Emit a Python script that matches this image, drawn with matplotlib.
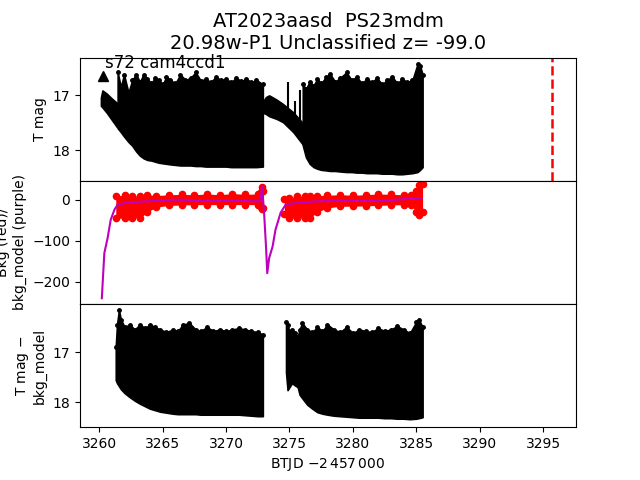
import matplotlib
matplotlib.use("Agg")
import matplotlib.pyplot as plt

# ---- panel 1: T mag (envelope of dense points) ----
ramp1_t = [3260.13, 3260.25, 3260.6, 3261.0, 3261.4]
ramp1_top = [17.04, 16.91, 16.97, 17.06, 17.14]
ramp1_bot = [17.19, 17.22, 17.32, 17.45, 17.58]

blk1_t = [3261.45, 3261.7, 3261.95, 3262.3, 3262.6, 3262.9, 3263.2, 3263.5, 3263.8,
          3264.1, 3264.4, 3264.7, 3265.0, 3265.3, 3265.6, 3266.0, 3266.4, 3266.8,
          3267.2, 3267.6, 3268.0, 3268.4, 3268.8, 3269.2, 3269.6, 3270.0, 3270.4,
          3270.8, 3271.2, 3271.6, 3272.0, 3272.4, 3272.9]
blk1_top = [16.58, 16.85, 16.62, 16.95, 16.72, 16.62, 16.75, 16.62, 16.70,
            16.78, 16.68, 16.72, 16.80, 16.66, 16.72, 16.78, 16.62, 16.72,
            16.68, 16.58, 16.73, 16.70, 16.76, 16.66, 16.72, 16.70, 16.76,
            16.68, 16.74, 16.70, 16.76, 16.72, 16.80]
blk1_bot = [17.60, 17.67, 17.75, 17.85, 17.92, 18.02, 18.10, 18.15, 18.18,
            18.19, 18.21, 18.23, 18.24, 18.25, 18.26, 18.27, 18.28, 18.28,
            18.28, 18.29, 18.29, 18.30, 18.30, 18.30, 18.30, 18.30, 18.31,
            18.31, 18.31, 18.31, 18.31, 18.31, 18.30]

ramp2_t = [3272.95, 3273.15, 3273.4, 3274.0, 3274.5, 3275.3, 3276.1]
ramp2_top = [17.10, 17.03, 17.00, 17.08, 17.16, 17.31, 17.52]
ramp2_bot = [17.32, 17.34, 17.38, 17.43, 17.49, 17.67, 17.91]

spk_t = [3274.9, 3275.4, 3275.8]
spk_lo = [16.76, 17.10, 16.91]
spk_hi = [17.40, 17.52, 17.58]

blk2_t = [3276.05, 3276.3, 3276.6, 3276.9, 3277.2, 3277.5, 3277.9, 3278.2, 3278.6,
          3279.0, 3279.5, 3279.9, 3280.3, 3280.7, 3281.1, 3281.5, 3281.9, 3282.3,
          3282.7, 3283.1, 3283.5, 3283.9, 3284.3, 3284.7, 3285.1, 3285.3, 3285.5]
blk2_top = [16.80, 16.88, 16.75, 16.82, 16.70, 16.78, 16.66, 16.61, 16.75,
            16.68, 16.58, 16.72, 16.66, 16.78, 16.70, 16.76, 16.68, 16.80,
            16.72, 16.66, 16.78, 16.70, 16.76, 16.72, 16.43, 16.46, 16.62]
blk2_bot = [17.91, 18.13, 18.25, 18.31, 18.34, 18.36, 18.37, 18.38, 18.38,
            18.39, 18.40, 18.40, 18.41, 18.41, 18.42, 18.42, 18.42, 18.43,
            18.43, 18.43, 18.44, 18.44, 18.43, 18.42, 18.40, 18.36, 18.31]

tri_t, tri_m = 3260.26, 16.64
mark_t = 3295.7

# ---- panel 2: background (red) and bkg model (purple) ----
bkgA_t = [3261.3, 3262.0, 3262.6, 3263.2, 3263.8, 3264.5, 3265.5, 3266.5, 3267.5,
          3268.5, 3269.5, 3270.5, 3271.5, 3272.5, 3272.75, 3272.85, 3272.95]
bkgA_hi = [8, 12, 8, 10, 12, 10, 12, 13, 12, 14, 12, 15, 13, 14, 18, 32, 20]
bkgA_lo = [-45, -45, -44, -45, -30, -18, -14, -13, -12, -12, -12, -12, -12, -12, -18, -22, -20]

bkgB_t = [3274.6, 3275.0, 3275.6, 3276.2, 3276.6, 3277.2, 3278.0, 3279.0, 3280.0,
          3281.0, 3282.0, 3283.0, 3284.0, 3284.6, 3285.0, 3285.2, 3285.5]
bkgB_hi = [2, 5, 8, 9, 10, 10, 11, 12, 11, 12, 14, 13, 12, 12, 20, 35, 37]
bkgB_lo = [-35, -45, -45, -44, -45, -30, -20, -16, -16, -15, -14, -13, -12, -12, -30, -37, -30]

model_t = [3260.2, 3260.4, 3260.66, 3260.9, 3261.2, 3261.45, 3262.4, 3263.8, 3265.8,
           3269.0, 3272.6, 3272.75, 3272.83, 3272.9, 3273.0, 3273.15, 3273.25,
           3273.4, 3273.67, 3273.9, 3274.3, 3274.7, 3275.5, 3277.1, 3279.7,
           3282.4, 3285.4]
model_v = [-240, -130, -93, -49, -24, -12, -6.5, -4, 0,
           -1.5, -4, 5, 32, 10, -32, -114, -179,
           -142, -114, -73, -32, -12, -8, -4, -2,
           -2, 4]

# ---- panel 3: T mag - bkg_model ----
dA_t = [3261.3, 3261.4, 3261.55, 3261.7, 3262.0, 3262.4, 3262.8, 3263.2, 3263.6,
        3264.0, 3264.4, 3264.8, 3265.3, 3265.8, 3266.2, 3266.6, 3267.1, 3267.6,
        3268.0, 3268.5, 3269.0, 3269.5, 3270.0, 3270.5, 3271.0, 3271.5, 3272.0,
        3272.5, 3272.9]
dA_top = [16.89, 16.45, 16.16, 16.35, 16.50, 16.45, 16.55, 16.45, 16.52,
          16.45, 16.50, 16.55, 16.60, 16.55, 16.58, 16.45, 16.42, 16.55,
          16.58, 16.50, 16.58, 16.55, 16.58, 16.55, 16.52, 16.55, 16.58,
          16.60, 16.65]
dA_bot = [17.56, 17.62, 17.68, 17.74, 17.82, 17.90, 17.97, 18.03, 18.08,
          18.13, 18.16, 18.19, 18.21, 18.23, 18.24, 18.24, 18.24, 18.24,
          18.25, 18.25, 18.25, 18.25, 18.25, 18.25, 18.25, 18.26, 18.27,
          18.28, 18.28]

dB_t = [3274.73, 3274.85, 3275.0, 3275.2, 3275.4, 3275.65, 3275.8, 3276.0, 3276.4,
        3276.8, 3277.2, 3277.6, 3278.0, 3278.5, 3279.0, 3279.5, 3280.0, 3280.5,
        3281.0, 3281.5, 3282.0, 3282.5, 3283.0, 3283.5, 3284.0, 3284.5, 3285.0,
        3285.2, 3285.5]
dB_top = [16.39, 16.45, 16.60, 16.55, 16.62, 16.69, 16.55, 16.42, 16.55,
          16.60, 16.50, 16.58, 16.45, 16.55, 16.60, 16.50, 16.62, 16.55,
          16.58, 16.60, 16.52, 16.58, 16.55, 16.48, 16.55, 16.62, 16.40,
          16.35, 16.50]
dB_bot = [17.41, 17.76, 17.70, 17.62, 17.66, 17.70, 17.85, 17.92, 18.05,
          18.13, 18.20, 18.23, 18.25, 18.27, 18.28, 18.29, 18.30, 18.31,
          18.31, 18.31, 18.31, 18.32, 18.32, 18.33, 18.33, 18.34, 18.33,
          18.32, 18.30]

fig, axs = plt.subplots(3, 1, sharex=True, figsize=(6.4, 4.8), dpi=100)
fig.subplots_adjust(hspace=0, left=0.125, right=0.9, top=0.88, bottom=0.11)
ax1, ax2, ax3 = axs

# panel 1
for t, top, bot in [(ramp1_t, ramp1_top, ramp1_bot), (blk1_t, blk1_top, blk1_bot),
                    (ramp2_t, ramp2_top, ramp2_bot), (blk2_t, blk2_top, blk2_bot)]:
    ax1.fill_between(t, top, bot, color='k', lw=1.2, edgecolor='k')
ax1.plot(blk1_t, blk1_top, 'ko', ms=2.5)
ax1.plot(blk2_t, blk2_top, 'ko', ms=2.5)
ax1.vlines(spk_t, spk_lo, spk_hi, color='k', lw=1.5)
ax1.plot([tri_t], [tri_m], 'k^', ms=7)
ax1.axvline(mark_t, color='r', ls='--', lw=1.8)
ax1.text(0.05, 0.955, 's72 cam4ccd1', transform=ax1.transAxes, fontsize=12, va='center')
ax1.set_ylim(18.56, 16.31)
ax1.set_yticks([17, 18])
ax1.set_ylabel('T mag')
ax1.set_title('AT2023aasd  PS23mdm\n20.98w-P1 Unclassified z= -99.0', fontsize=14)

# panel 2
for t, hi, lo in [(bkgA_t, bkgA_hi, bkgA_lo), (bkgB_t, bkgB_hi, bkgB_lo)]:
    ax2.fill_between(t, lo, hi, color='r', lw=0)
    ax2.plot(t, hi, 'ro', ms=4.5)
    ax2.plot(t, lo, 'ro', ms=4.5)
ax2.plot(model_t, model_v, color='m', lw=1.5)
ax2.set_ylim(-254, 46)
ax2.set_yticks([-200, -100, 0])
ax2.set_ylabel('Bkg (red)/\nbkg_model (purple)')

# panel 3
for t, top, bot in [(dA_t, dA_top, dA_bot), (dB_t, dB_top, dB_bot)]:
    ax3.fill_between(t, top, bot, color='k', lw=1.2, edgecolor='k')
    ax3.plot(t, top, 'ko', ms=2.5)
ax3.set_ylim(18.5, 16.04)
ax3.set_yticks([17, 18])
ax3.set_ylabel('T mag $-$\nbkg_model')

ax3.set_xlim(3258.48, 3297.6)
ax3.set_xticks([3260, 3265, 3270, 3275, 3280, 3285, 3290, 3295])
ax3.set_xlabel(r'BTJD $-2\,457\,000$')

fig.savefig('out.png', dpi=100)
